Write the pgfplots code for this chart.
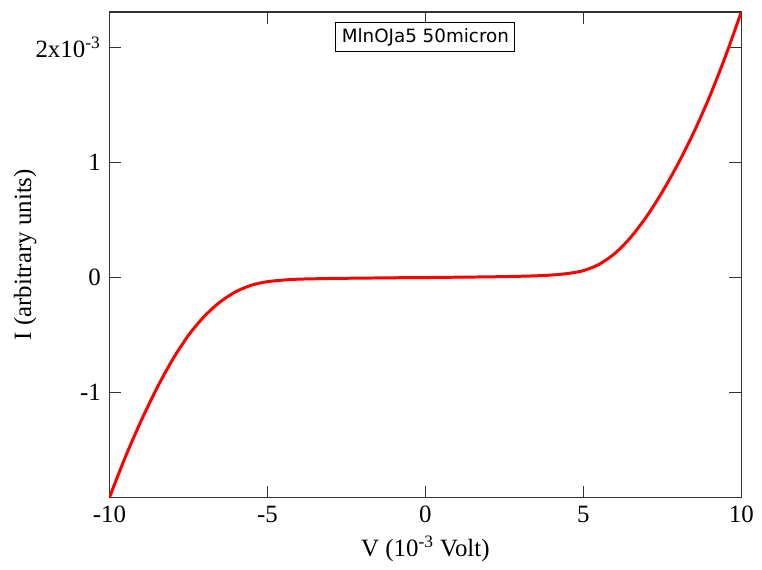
\documentclass[border=0pt]{standalone}
\usepackage{fontspec}
\setmainfont{Liberation Serif}
\newfontfamily\boxfont{DejaVu Sans}
\usepackage{pgfplots}
\pgfplotsset{compat=1.18}
\usetikzlibrary{calc}

\begin{document}
\fontsize{12.5}{15}\selectfont
\begin{tikzpicture}
  \begin{axis}[
      scale only axis,
      width=317.5pt, height=244pt,
      xmin=-10, xmax=10,
      ymin=-1.913, ymax=2.31,
      xtick={-10,-5,0,5,10},
      xticklabels={-10,-5,0,5,10},
      ytick={-1,0,1,2},
      yticklabels={-1,0,1,{2x10\textsuperscript{-3}}},
      tick align=inside,
      major tick length=6pt,
      minor tick num=0,
      axis line style={line width=0.6pt, black!80},
      every tick/.style={line width=0.6pt, black!80},
      tick label style={font=\fontsize{12.5}{15}\selectfont},
      label style={font=\fontsize{12.5}{15}\selectfont},
      xlabel={V (10\textsuperscript{-3} Volt)},
      ylabel={I (arbitrary units)},
      xlabel style={yshift=2pt},
      ylabel style={yshift=-9pt},
      clip=true,
    ]
    \addplot[red, line width=1.5pt, smooth] coordinates {
      (-10,-1.913) (-9.5,-1.563) (-9,-1.248) (-8.5,-0.963) (-8,-0.713)
      (-7.5,-0.503) (-7,-0.338) (-6.5,-0.213) (-6,-0.123) (-5.5,-0.066)
      (-5,-0.036) (-4.5,-0.022) (-4,-0.014) (-3,-0.008) (-2,-0.005)
      (-1,-0.002) (0,0) (1,0.003) (2,0.006) (3,0.011) (3.5,0.015)
      (4,0.022) (4.5,0.035) (5,0.06) (5.5,0.115) (6,0.21) (6.5,0.35)
      (7,0.53) (7.5,0.745) (8,0.99) (8.5,1.265) (9,1.575) (9.5,1.925)
      (10,2.31)
    };
    \node[draw=black, line width=0.5pt, fill=white, anchor=north,
          inner sep=3pt, font=\boxfont\fontsize{9.2}{11}\selectfont]
      at (axis cs:0,2.31) [yshift=-5pt] {MlnOJa5 50micron};
  \end{axis}
  \path ($(current axis.south west)+(-55pt,-36pt)$) rectangle
        ($(current axis.north east)+(8.5pt,6pt)$);
\end{tikzpicture}
\end{document}
